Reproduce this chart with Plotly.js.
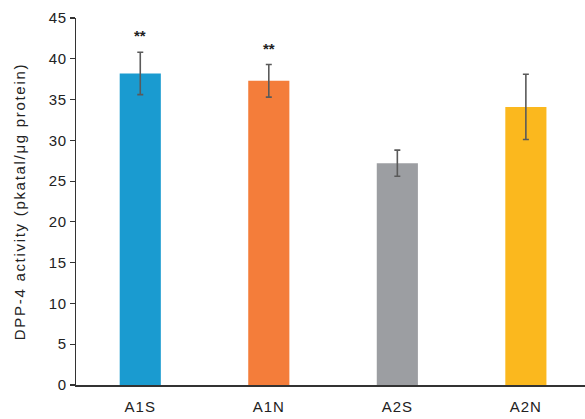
<!DOCTYPE html>
<html>
<head>
<meta charset="utf-8">
<script src="https://cdn.plot.ly/plotly-3.0.1.min.js"></script>
<style>
html,body{margin:0;padding:0;background:#fff;overflow:hidden}
#chart .ytitle{letter-spacing:1.7px}
#chart .xtick text{letter-spacing:1px}
#chart .ytick text{letter-spacing:0.5px}
</style>
</head>
<body>
<div id="chart" style="width:585px;height:419px"></div>
<script>
const categories = ["A1S", "A1N", "A2S", "A2N"];
const values = [38.2, 37.3, 27.2, 34.1];
const errors = [2.6, 2.0, 1.6, 4.0];
const colors = ["#1a9bd0", "#f47d3a", "#9c9ea2", "#fbb81e"];
const sigLabels = ["**", "**", "", ""];
const sigY = [42.8, 41.3, null, null];
const yTicks = [0, 5, 10, 15, 20, 25, 30, 35, 40, 45];

const trace = {
  type: "bar",
  x: categories,
  y: values,
  marker: {color: colors},
  error_y: {type: "data", array: errors, visible: true, color: "#5a5a5a", thickness: 1.6, width: 3},
  hoverinfo: "none"
};

const annotations = categories.map((c, i) => sigLabels[i] ? {
  x: c, y: sigY[i], text: sigLabels[i], showarrow: false,
  font: {family: "Liberation Sans, Arial", size: 15, color: "#222", weight: "bold"}
} : null).filter(a => a);

const layout = {
  width: 585, height: 419,
  margin: {l: 76, r: 0, t: 18, b: 34},
  paper_bgcolor: "#fff", plot_bgcolor: "#fff",
  showlegend: false,
  bargap: 0.68,
  font: {family: "Liberation Sans, Arial", size: 15, color: "#222"},
  xaxis: {
    type: "category", range: [-0.5, 3.46],
    showline: true, linecolor: "#333", linewidth: 1.5,
    ticks: "", showgrid: false, zeroline: false,
    ticklabelstandoff: 7,
    tickfont: {size: 15, color: "#222"}
  },
  yaxis: {
    range: [0, 45], tickvals: yTicks,
    showline: true, linecolor: "#333", linewidth: 1.5,
    ticks: "outside", ticklen: 5, tickcolor: "#333", tickwidth: 1.2,
    showgrid: false, zeroline: false,
    tickfont: {size: 15, color: "#222"},
    title: {text: "DPP-4 activity (pkatal/μg protein)", font: {size: 15, color: "#222"}, standoff: 20}
  },
  annotations: annotations
};

Plotly.newPlot("chart", [trace], layout, {displayModeBar: false, staticPlot: true});
</script>
</body>
</html>
